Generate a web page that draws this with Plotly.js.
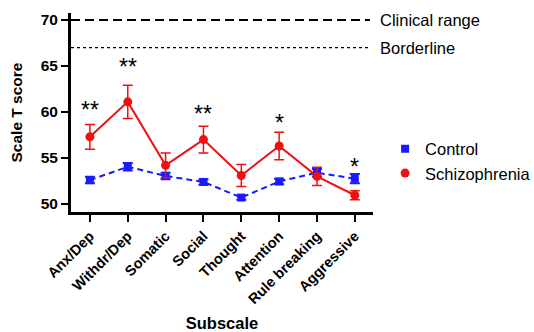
<!DOCTYPE html>
<html>
<head>
<meta charset="utf-8">
<script src="https://cdn.plot.ly/plotly-3.0.1.min.js"></script>
<style>html,body{margin:0;padding:0;background:#fff}#chart{width:534px;height:332px}</style>
</head>
<body>
<div id="chart"></div>
<script>
var categories = ["Anx/Dep", "Withdr/Dep", "Somatic", "Social", "Thought", "Attention", "Rule breaking", "Aggressive"];
var controlMean = [52.6, 54.05, 53.05, 52.4, 50.7, 52.45, 53.4, 52.75];
var controlErr = [0.35, 0.4, 0.35, 0.3, 0.25, 0.3, 0.4, 0.5];
var schizMean = [57.3, 61.1, 54.2, 57.0, 53.1, 56.3, 53.0, 50.95];
var schizErr = [1.35, 1.8, 1.35, 1.45, 1.2, 1.5, 1.0, 0.5];
var sigLabels = ["**", "**", "", "**", "", "*", "", "*"];
var sigY = [60.2, 64.9, null, 59.75, null, 58.85, null, 54.05];
var refLevels = [70, 67];
var refLabels = ["Clinical range", "Borderline"];

var FONT = "Liberation Sans, Arial, sans-serif";
var xIdx = categories.map(function(c, i){ return i; });
var BLUE = "#1a1aff", RED = "#ee1111";

var traces = [
  {
    x: xIdx, y: controlMean, name: "Control", type: "scatter", mode: "lines", showlegend: false,
    line: {color: BLUE, width: 2, dash: "6px,4px"}
  },
  {
    x: xIdx, y: schizMean, name: "Schizophrenia", type: "scatter", mode: "lines", showlegend: false,
    line: {color: RED, width: 2}
  },
  {
    x: xIdx, y: controlMean, name: "Control", type: "scatter", mode: "markers",
    marker: {symbol: "square", size: 8, color: BLUE},
    error_y: {type: "data", array: controlErr, visible: true, color: BLUE, thickness: 2, width: 5}
  },
  {
    x: xIdx, y: schizMean, name: "Schizophrenia", type: "scatter", mode: "markers",
    marker: {symbol: "circle", size: 9, color: RED},
    error_y: {type: "data", array: schizErr, visible: true, color: RED, thickness: 1.5, width: 5}
  }
];

var shapes = [
  {type: "line", xref: "x", yref: "y", x0: -0.5, x1: 7.4, y0: refLevels[0], y1: refLevels[0],
   line: {color: "#000", width: 2, dash: "9px,5px"}},
  {type: "line", xref: "x", yref: "y", x0: -0.5, x1: 7.4, y0: refLevels[1], y1: refLevels[1],
   line: {color: "#000", width: 1.2, dash: "dot"}}
];

var annotations = [];
refLevels.forEach(function(v, i){
  annotations.push({xref: "paper", yref: "y", x: 1.015, y: v, xanchor: "left", yanchor: "middle",
    text: refLabels[i], showarrow: false, font: {family: FONT, size: 16.5, color: "#000"}});
});
sigLabels.forEach(function(s, i){
  if (s) annotations.push({xref: "x", yref: "y", x: i, y: sigY[i], text: s, showarrow: false,
    xanchor: "center", yanchor: "middle", font: {family: FONT, size: 23, color: "#000"}});
});

var layout = {
  width: 534, height: 332,
  margin: {l: 71, r: 161, t: 13, b: 120, autoexpand: false},
  paper_bgcolor: "#fff", plot_bgcolor: "#fff",
  showlegend: true,
  legend: {x: 1.04, y: 0.405, xanchor: "left", yanchor: "top", font: {family: FONT, size: 16.5, color: "#000"},
    bgcolor: "rgba(0,0,0,0)", tracegroupgap: 0, itemwidth: 30},
  xaxis: {
    range: [-0.5, 7.48], tickmode: "array", tickvals: xIdx, ticktext: categories, automargin: false,
    tickangle: -45, ticks: "outside", ticklen: 7, tickwidth: 2, tickcolor: "#000",
    showline: true, linewidth: 3, linecolor: "#000", showgrid: false, zeroline: false,
    tickfont: {family: FONT, size: 14.5, color: "#000", weight: "bold"},
    title: {text: "Subscale", font: {family: FONT, size: 16.5, color: "#000", weight: "bold"}, standoff: 12}
  },
  yaxis: {
    range: [49.13, 70.76], tickvals: [50, 55, 60, 65, 70], automargin: false,
    ticks: "outside", ticklen: 7, tickwidth: 2, tickcolor: "#000",
    showline: true, linewidth: 3, linecolor: "#000", showgrid: false, zeroline: false,
    tickfont: {family: FONT, size: 15.5, color: "#000", weight: "bold"},
    title: {text: "Scale T score", font: {family: FONT, size: 15.5, color: "#000", weight: "bold"}, standoff: 15}
  },
  shapes: shapes,
  annotations: annotations
};

Plotly.newPlot("chart", traces, layout, {displayModeBar: false, staticPlot: true});
</script>
</body>
</html>
